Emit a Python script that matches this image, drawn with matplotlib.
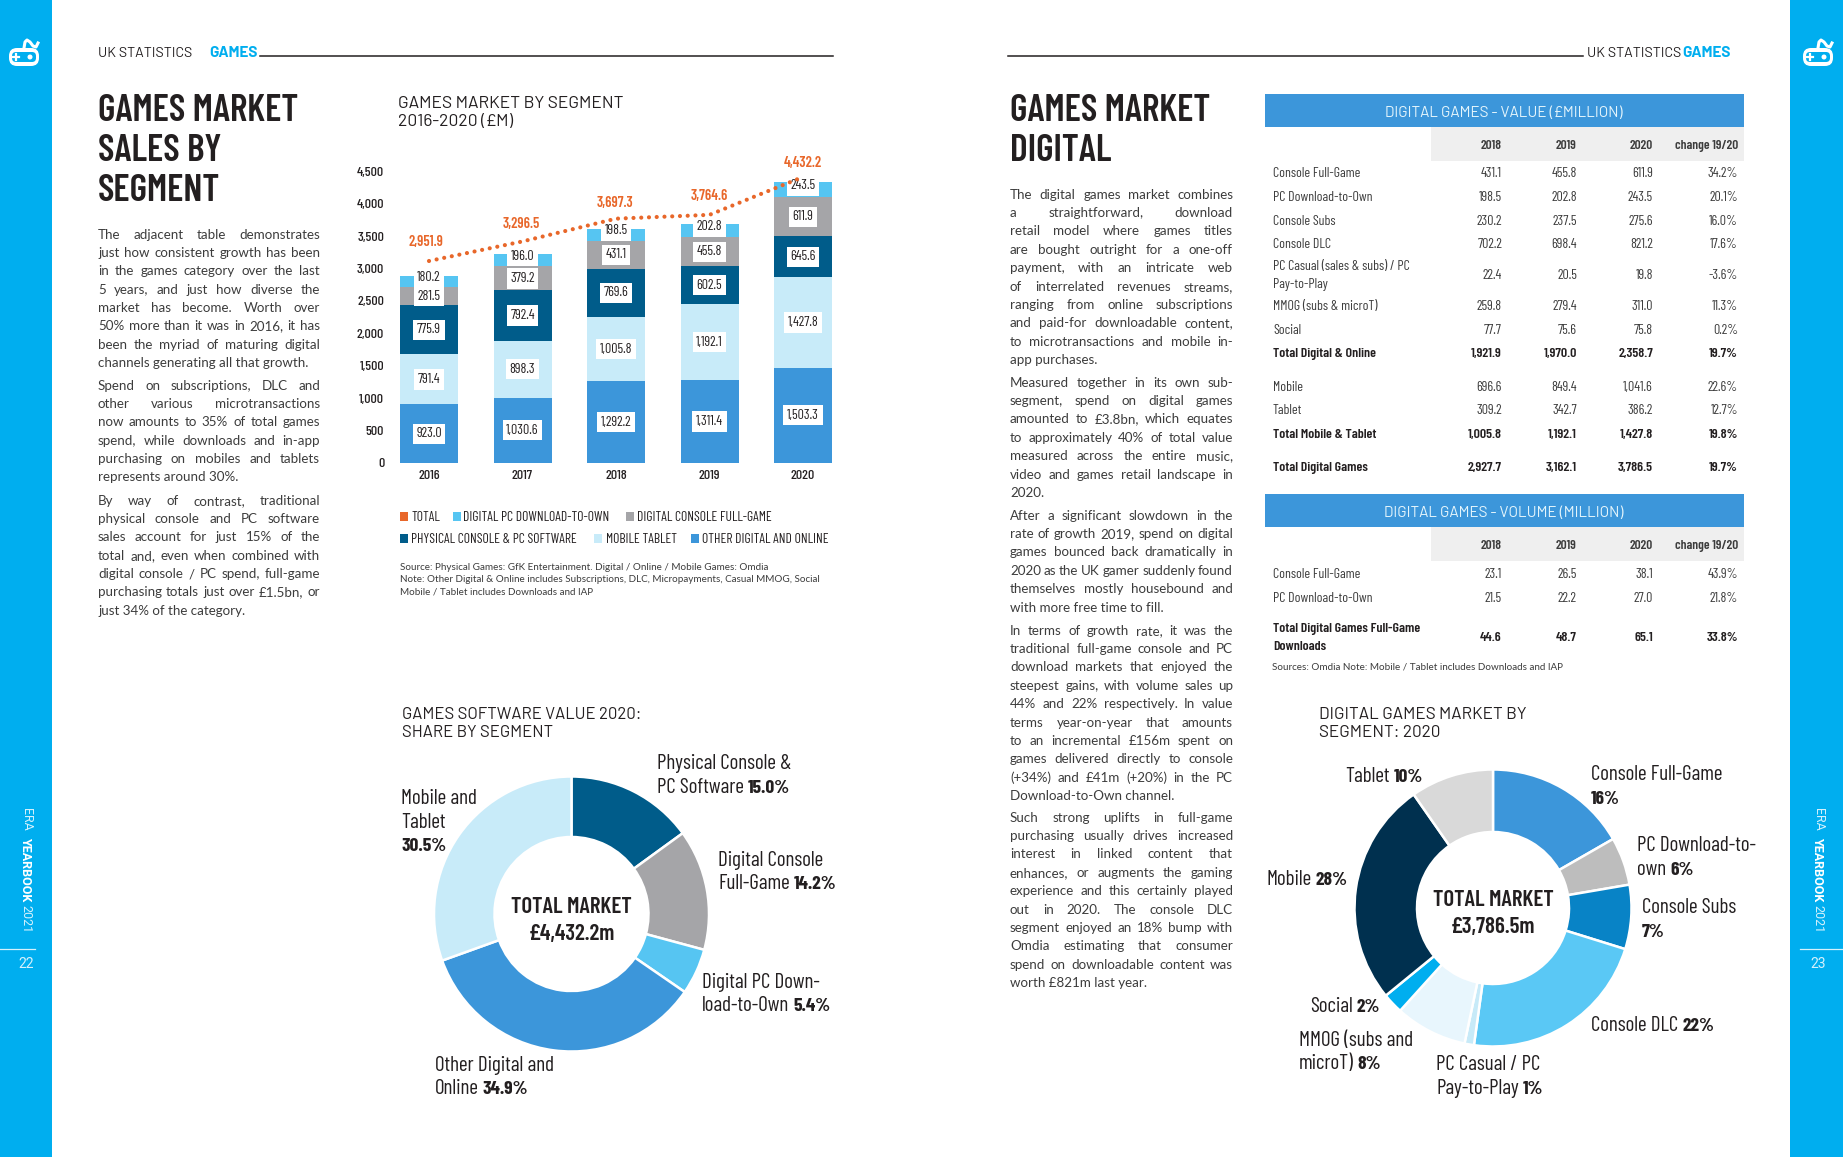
import matplotlib
matplotlib.use('Agg')
import matplotlib.pyplot as plt
import matplotlib.font_manager as fm
from matplotlib.patches import Rectangle, FancyBboxPatch, Circle
import numpy as np

W, H = 1843, 1157

# 数据
years = ['2016', '2017', '2018', '2019', '2020']
other_digital = [923.0, 1030.6, 1292.2, 1311.4, 1503.3]
mobile_tablet = [791.4, 898.3, 1005.8, 1192.1, 1427.8]
physical = [775.9, 792.4, 769.6, 602.5, 645.6]
console_full = [281.5, 379.2, 431.1, 455.8, 611.9]
pc_download = [180.2, 196.0, 198.5, 202.8, 243.5]
total = [2951.9, 3296.5, 3697.3, 3764.6, 4432.2]
y_ticks = [0, 500, 1000, 1500, 2000, 2500, 3000, 3500, 4000, 4500]

share_values = [15.0, 14.2, 5.4, 34.9, 30.5]
digital_shares = [16.7, 5.6, 7.5, 22.4, 1.1, 8.4, 2.4, 26.2, 9.7]

table_cols = ['2018', '2019', '2020', 'change 19/20']
value_rows = [
    ('Console Full-Game', '431.1', '455.8', '611.9', '34.2%'),
    ('PC Download-to-Own', '198.5', '202.8', '243.5', '20.1%'),
    ('Console Subs', '230.2', '237.5', '275.6', '16.0%'),
    ('Console DLC', '702.2', '698.4', '821.2', '17.6%'),
    ('PC Casual (sales & subs) / PC\nPay-to-Play', '22.4', '20.5', '19.8', '-3.6%'),
    ('MMOG (subs & microT)', '259.8', '279.4', '311.0', '11.3%'),
    ('Social', '77.7', '75.6', '75.8', '0.2%'),
    ('Total Digital & Online', '1,921.9', '1,970.0', '2,358.7', '19.7%'),
    ('Mobile', '696.6', '849.4', '1,041.6', '22.6%'),
    ('Tablet', '309.2', '342.7', '386.2', '12.7%'),
    ('Total Mobile & Tablet', '1,005.8', '1,192.1', '1,427.8', '19.8%'),
    ('Total Digital Games', '2,927.7', '3,162.1', '3,786.5', '19.7%'),
]
volume_rows = [
    ('Console Full-Game', '23.1', '26.5', '38.1', '43.9%'),
    ('PC Download-to-Own', '21.5', '22.2', '27.0', '21.8%'),
    ('Total Digital Games Full-Game\nDownloads', '44.6', '48.7', '65.1', '33.8%'),
]

left_body = [
    ['The adjacent table demonstrates', 'just how consistent growth has been',
     'in the games category over the last', '5 years, and just how diverse the',
     'market has become. Worth over', '50% more than it was in 2016, it has',
     'been the myriad of maturing digital', 'channels generating all that growth.'],
    ['Spend on subscriptions, DLC and', 'other various microtransactions',
     'now amounts to 35% of total games', 'spend, while downloads and in-app',
     'purchasing on mobiles and tablets', 'represents around 30%.'],
    ['By way of contrast, traditional', 'physical console and PC software',
     'sales account for just 15% of the', 'total and, even when combined with',
     'digital console / PC spend, full-game', 'purchasing totals just over £1.5bn, or',
     'just 34% of the category.'],
]
right_body = [
    ['The digital games market combines', 'a straightforward, download',
     'retail model where games titles', 'are bought outright for a one-off',
     'payment, with an intricate web', 'of interrelated revenues streams,',
     'ranging from online subscriptions', 'and paid-for downloadable content,',
     'to microtransactions and mobile in-', 'app purchases.'],
    ['Measured together in its own sub-', 'segment, spend on digital games',
     'amounted to £3.8bn, which equates', 'to approximately 40% of total value',
     'measured across the entire music,', 'video and games retail landscape in', '2020.'],
    ['After a significant slowdown in the', 'rate of growth 2019, spend on digital',
     'games bounced back dramatically in', '2020 as the UK gamer suddenly found',
     'themselves mostly housebound and', 'with more free time to fill.'],
    ['In terms of growth rate, it was the', 'traditional full-game console and PC',
     'download markets that enjoyed the', 'steepest gains, with volume sales up',
     '44% and 22% respectively. In value', 'terms year-on-year that amounts',
     'to an incremental £156m spent on', 'games delivered directly to console',
     '(+34%) and £41m (+20%) in the PC', 'Download-to-Own channel.'],
    ['Such strong uplifts in full-game', 'purchasing usually drives increased',
     'interest in linked content that', 'enhances, or augments the gaming',
     'experience and this certainly played', 'out in 2020. The console DLC',
     'segment enjoyed an 18% bump with', 'Omdia estimating that consumer',
     'spend on downloadable content was', 'worth £821m last year.'],
]

# 颜色
BLUE_SIDE = '#00AEEF'
C_OTHER = '#3C96DA'
C_MOBILE = '#C8EBF9'
C_PHYS = '#005C8A'
C_CONSOLE = '#A5A5A8'
C_PC = '#56C5F2'
C_TOTAL = '#E8672A'
INK = '#231F20'
GREY_TXT = '#3C3C3C'
pie2_colors = ['#3C96DA', '#BDBDBD', '#0883C6', '#5AC8F5', '#C7EAF8',
               '#E8F6FD', '#00AEEF', '#00304F', '#D9D9D9']

# 字体
names = {f.name for f in fm.fontManager.ttflist}


def pick(*options):
    for n in options:
        if n in names:
            return n
    return 'DejaVu Sans'


NARROW = pick('Barlow Condensed', 'Liberation Sans Narrow', 'Liberation Sans')
LABEL = pick('Barlow', 'Roboto')
BODY = 'Lato'

fig = plt.figure(figsize=(W / 100, H / 100), dpi=100, facecolor='white')
renderer = fig.canvas.get_renderer()


def px_axes(l, t, r, b, **kw):
    return fig.add_axes([l / W, 1 - b / H, (r - l) / W, (b - t) / H], **kw)


def px_ylim(px_zero, px_per_unit, top, bottom):
    # y轴范围: 像素位置换算成数值
    return (px_zero - bottom) / px_per_unit, (px_zero - top) / px_per_unit


page = px_axes(0, 0, W, H)
page.set_xlim(0, W)
page.set_ylim(H, 0)
page.axis('off')
page.set_zorder(5)
page.patch.set_alpha(0)


def txt(x, y, s, size=10, family=BODY, weight='normal', color=GREY_TXT, ha='left'):
    # y = 大写字母的垂直中心
    return page.text(x, y + 0.35 * size / 0.72, s, fontsize=size, family=family, weight=weight,
                     color=color, ha=ha, va='baseline')


def mixed(x, y, normal, bold, size=15.2, gap=4):
    x2 = x
    if normal:
        t = txt(x, y, normal, size=size, family=NARROW, color=INK)
        x2 = x + t.get_window_extent(renderer).width + gap
    if bold:
        txt(x2, y, bold, size=size * 0.92, family=NARROW, weight='bold', color=INK)


def justified(x, width, paragraphs, tops, step, size=9.6):
    for lines, top in zip(paragraphs, tops):
        for i, line in enumerate(lines):
            ly = top + i * step
            if i == len(lines) - 1:
                txt(x, ly, line, size=size)
                continue
            words = line.split()
            items = [txt(x, ly, w, size=size) for w in words]
            widths = [t.get_window_extent(renderer).width for t in items]
            space = (width - sum(widths)) / max(len(words) - 1, 1)
            cx = x
            for t, w in zip(items, widths):
                t.set_x(cx)
                cx += w + space


# 侧边栏
page.add_patch(Rectangle((0, 0), 52, H, color=BLUE_SIDE, lw=0))
page.add_patch(Rectangle((1790, 0), W - 1790, H, color=BLUE_SIDE, lw=0))


def gamepad(cx, cy):
    page.add_patch(FancyBboxPatch((cx - 12, cy - 6), 24, 12, boxstyle='round,pad=3,rounding_size=8',
                                  fc='white', ec='none'))
    page.add_patch(FancyBboxPatch((cx - 11, cy - 4), 22, 8, boxstyle='round,pad=1,rounding_size=4',
                                  fc=BLUE_SIDE, ec='none'))
    page.plot([cx - 11, cx - 5], [cy, cy], color='white', lw=1.6)
    page.plot([cx - 8, cx - 8], [cy - 3, cy + 3], color='white', lw=1.6)
    page.add_patch(Circle((cx + 6, cy), 2.5, fc='white', ec='none'))
    page.plot([cx, cx + 1, cx + 3, cx + 6, cx + 9, cx + 12, cx + 14],
              [cy - 9, cy - 15, cy - 17, cy - 15, cy - 11, cy - 10, cy - 14],
              color='white', lw=2.2)


gamepad(24, 57)
gamepad(1818, 57)

for sx, line_x, number in [(26, (0, 35), '22'), (1818, (1800, W), '23')]:
    page.text(sx, 819, 'ERA', size=9, family='Roboto', color='#D5F1FC', ha='center', va='center', rotation=-90)
    page.text(sx, 869, 'YEARBOOK', size=9, family='Roboto', weight='bold', color='white', ha='center', va='center', rotation=-90)
    page.text(sx, 919, '2021', size=9, family='Roboto', color='#D5F1FC', ha='center', va='center', rotation=-90)
    page.plot(line_x, [949, 949], color='#D5F1FC', lw=0.9)
    txt(sx, 963, number, size=10, family='Roboto', color='#D5F1FC', ha='center')

# 页眉
txt(98, 52, 'UK STATISTICS', size=10.2, family=LABEL, color=INK)
txt(209, 52, 'GAMES', size=11, family=LABEL, weight='bold', color=BLUE_SIDE)
page.plot([260, 833], [56, 56], color=INK, lw=1.1)
page.plot([1008, 1583], [56, 56], color=INK, lw=1.1)
txt(1587, 52, 'UK STATISTICS', size=10.2, family=LABEL, color=INK)
txt(1682, 52, 'GAMES', size=11, family=LABEL, weight='bold', color=BLUE_SIDE)

# 大标题
for y, s in zip([108, 148, 188], ['GAMES MARKET', 'SALES BY', 'SEGMENT']):
    txt(98, y, s, size=27, family=NARROW, weight=600, color=INK)
for y, s in zip([108, 148], ['GAMES MARKET', 'DIGITAL']):
    txt(1010, y, s, size=27, family=NARROW, weight=600, color=INK)

# 正文
justified(98, 222, left_body, [234, 385, 500], 18.35)
justified(1010, 223, right_body, [194, 382, 515, 630, 817], 18.4)

# 柱状图
BAR_BASE = 463
bar_ax = px_axes(380, 130, 852, BAR_BASE)
bar_ax.set_xlim((380 - 429) / 93.5, (852 - 429) / 93.5)
bar_ax.set_ylim(*px_ylim(BAR_BASE, 0.0634, 130, BAR_BASE))
x = np.arange(len(years))
series = [other_digital, mobile_tablet, physical, console_full, pc_download]
colors = [C_OTHER, C_MOBILE, C_PHYS, C_CONSOLE, C_PC]
bottom = np.zeros(len(years))
for k, (vals, c) in enumerate(zip(series, colors)):
    vals = np.array(vals)
    bar_ax.bar(x, vals, width=58 / 93.5, bottom=bottom, color=c, lw=0)
    for xi, b, v in zip(x, bottom, vals):
        off = 4 if k == 4 else 0
        bar_ax.annotate(f'{v:,.1f}', (xi, b + v / 2), xytext=(0, off), textcoords='offset pixels',
                        ha='center', va='center', fontsize=10, family=NARROW, color=INK,
                        bbox=dict(fc='white', ec='none', pad=2.6))
    bottom = bottom + vals
bar_ax.set_xticks(x, years, fontsize=10, family=NARROW, weight=500, color=INK)
bar_ax.tick_params(axis='x', length=0, pad=5)
bar_ax.set_yticks([])
for s in bar_ax.spines.values():
    s.set_visible(False)
bar_ax.patch.set_alpha(0)

# y轴刻度单独一个比例 (原图刻度与柱子不完全对齐)
tick_ax = bar_ax.twinx()
tick_ax.set_ylim(*px_ylim(464, 0.0650, 130, BAR_BASE))
tick_ax.yaxis.tick_left()
tick_ax.set_yticks(y_ticks, [f'{v:,}' for v in y_ticks], fontsize=10, family=NARROW, weight=500, color=INK)
tick_ax.tick_params(axis='y', length=0, pad=-3)
for s in tick_ax.spines.values():
    s.set_visible(False)

# 总计虚线 (偏移在柱子上方)
total_ax = bar_ax.twinx()
total_ax.set_ylim(*px_ylim(261 + 0.0568 * total[0], 0.0568, 130, BAR_BASE))
total_ax.axis('off')
total_ax.plot(x, total, color=C_TOTAL, lw=3, linestyle=(0, (0.01, 1.85)), dash_capstyle='round')
label_dx = [-3, -1, -1, 0, 0]
label_dy = [19, 17, 16, 19, 14]
for xi, v, dx, dy in zip(x, total, label_dx, label_dy):
    total_ax.annotate(f'{v:,.1f}', (xi, v), xytext=(dx, dy), textcoords='offset pixels', ha='center', va='center',
                      fontsize=10.5, family=NARROW, weight=600, color=C_TOTAL)

txt(398, 102, 'GAMES MARKET BY SEGMENT', size=12.5, family=LABEL, color=INK)
txt(398, 120, '2016-2020 (£M)', size=12.5, family=LABEL, color=INK)

# 图例
legend_items = [
    (400, 411, 516, C_TOTAL, 'TOTAL'),
    (453, 463, 516, C_PC, 'DIGITAL PC DOWNLOAD-TO-OWN'),
    (626, 637, 516, C_CONSOLE, 'DIGITAL CONSOLE FULL-GAME'),
    (400, 411, 538, C_PHYS, 'PHYSICAL CONSOLE & PC SOFTWARE'),
    (594, 606, 538, C_MOBILE, 'MOBILE TABLET'),
    (691, 702, 538, C_OTHER, 'OTHER DIGITAL AND ONLINE'),
]
for sx, tx, ly, c, s in legend_items:
    page.add_patch(Rectangle((sx, ly - 4.5), 8, 9, color=c, lw=0))
    txt(tx, ly, s, size=9.8, family=NARROW, color=INK)

for y, s in zip([566.5, 579, 591], ['Source: Physical Games: GfK Entertainment. Digital / Online / Mobile Games: Omdia',
                                    'Note: Other Digital & Online includes Subscriptions, DLC, Micropayments, Casual MMOG, Social',
                                    'Mobile / Tablet includes Downloads and IAP']):
    txt(400, y, s, size=7.1)


# 环形图
def donut(cx, cy, R, inner, vals, cols):
    ax = px_axes(cx - R, cy - R, cx + R, cy + R)
    ax.pie(vals, colors=cols, startangle=90, counterclock=False, radius=1,
           wedgeprops=dict(width=1 - inner / R, edgecolor='white', linewidth=1.8))
    ax.set_xlim(-1, 1)
    ax.set_ylim(-1, 1)
    return ax


donut(571.5, 914, 137.5, 77, share_values, [C_PHYS, C_CONSOLE, C_PC, C_OTHER, C_MOBILE])
txt(402, 713, 'GAMES SOFTWARE VALUE 2020:', size=12, family=LABEL, color=INK)
txt(402, 731, 'SHARE BY SEGMENT', size=12, family=LABEL, color=INK)
txt(571.5, 905, 'TOTAL MARKET', size=16.5, family=NARROW, weight=600, color=INK, ha='center')
txt(571.5, 932, '£4,432.2m', size=16.5, family=NARROW, weight=600, color=INK, ha='center')
mixed(657, 762, 'Physical Console &', '')
mixed(657, 786, 'PC Software', '15.0%')
mixed(718, 859, 'Digital Console', '')
mixed(718, 882, 'Full-Game', '14.2%')
mixed(702, 981, 'Digital PC Down-', '')
mixed(702, 1004, 'load-to-Own', '5.4%')
mixed(435, 1064, 'Other Digital and', '')
mixed(435, 1087, 'Online', '34.9%')
mixed(401, 797, 'Mobile and', '')
mixed(401, 821, 'Tablet', '')
mixed(401, 844, '', '30.5%')

donut(1493, 908, 138.5, 76, digital_shares, pie2_colors)
txt(1319, 713, 'DIGITAL GAMES MARKET BY', size=12.3, family=LABEL, color=INK)
txt(1319, 731, 'SEGMENT: 2020', size=12.3, family=LABEL, color=INK)
txt(1493, 898, 'TOTAL MARKET', size=16.5, family=NARROW, weight=600, color=INK, ha='center')
txt(1493, 925, '£3,786.5m', size=16.5, family=NARROW, weight=600, color=INK, ha='center')
mixed(1345, 775, 'Tablet', '10%')
mixed(1591, 773, 'Console Full-Game', '')
mixed(1591, 797, '', '16%')
mixed(1637, 844, 'PC Download-to-', '')
mixed(1637, 868, 'own', '6%')
mixed(1642, 906, 'Console Subs', '')
mixed(1642, 930, '', '7%')
mixed(1591, 1024, 'Console DLC', '22%')
mixed(1436, 1063, 'PC Casual / PC', '')
mixed(1436, 1087, 'Pay-to-Play', '1%')
mixed(1299, 1039, 'MMOG (subs and', '')
mixed(1299, 1062, 'microT)', '8%')
mixed(1310, 1005, 'Social', '2%')
mixed(1266, 878, 'Mobile', '28%')

# 表格
col_right = [1502, 1577, 1653, 1738]


def table(top, title, rows, row_y, bold_rows):
    page.add_patch(Rectangle((1265, top), 479, 33, color=C_OTHER, lw=0))
    page.add_patch(Rectangle((1431, top + 33), 313, 34, color='#EFEFEF', lw=0))
    txt(1504, top + 18, title, size=11, family=LABEL, color='#E4F5FC', ha='center')
    for r, c in zip(col_right, table_cols):
        txt(r, top + 50, c, size=9.6, family=NARROW, weight=600, color=GREY_TXT, ha='right')
    for i, (row, y) in enumerate(zip(rows, row_y)):
        bold = i in bold_rows
        w = 600 if bold else 'normal'
        col = INK if bold else GREY_TXT
        parts = row[0].split('\n')
        for j, p in enumerate(parts):
            ly = y + (j - (len(parts) - 1) / 2) * 18.5
            txt(1273, ly, p, size=10, family=NARROW, weight=w, color=col)
        for r, v in zip(col_right, row[1:]):
            txt(r, y, v, size=10, family=NARROW, weight=w, color=col, ha='right')


table(94, 'DIGITAL GAMES - VALUE (£MILLION)', value_rows,
      [172, 196, 220, 243, 274, 305, 329, 352, 386, 409, 433, 466], {7, 10, 11})
table(494, 'DIGITAL GAMES - VOLUME (MILLION)', volume_rows, [573, 597, 636], {2})
txt(1272, 666, 'Sources: Omdia Note: Mobile / Tablet includes Downloads and IAP', size=7.1)

plt.savefig('out.png', dpi=100)
